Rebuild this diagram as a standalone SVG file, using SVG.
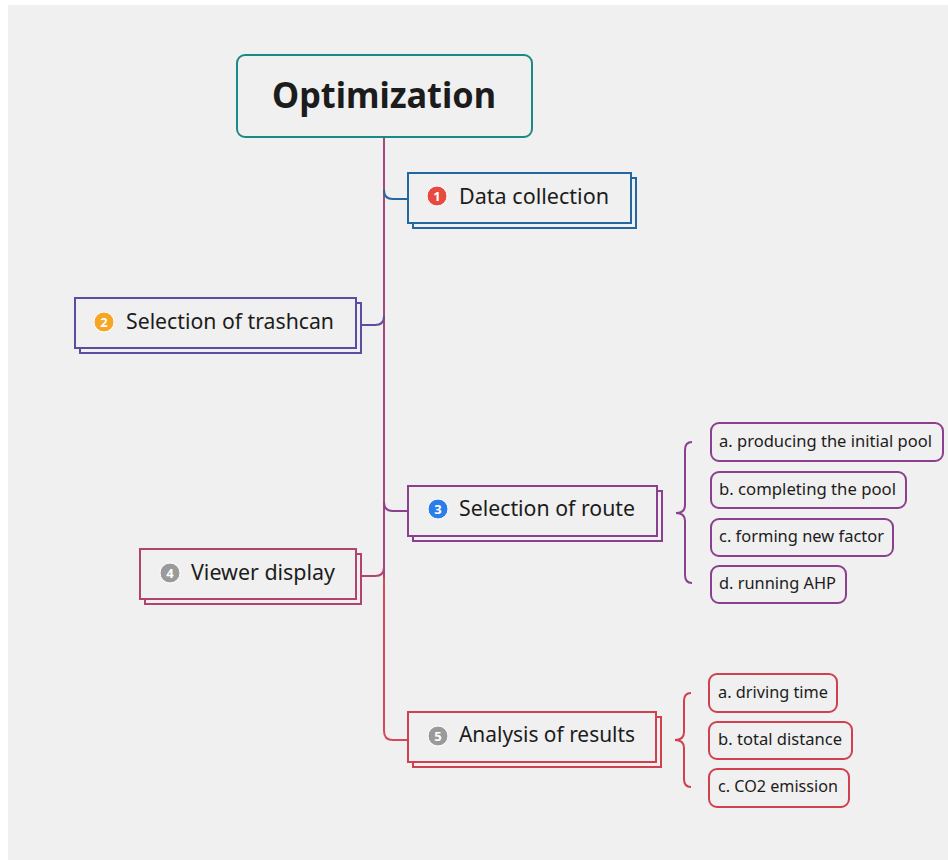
<svg xmlns="http://www.w3.org/2000/svg" width="948" height="860" viewBox="0 0 948 860">
<style>
text{font-family:"Noto Sans","Open Sans","Liberation Sans",sans-serif;fill:#1c1c1c}
.t{font-size:21px}
.s{font-size:16px}
.bx{fill:#f0f0f0;stroke-width:2}
.sub{fill:#f0f0f0;stroke-width:2}
.bd{font-size:13px;font-weight:bold;fill:#fff;text-anchor:middle}
.c{fill:none;stroke-width:2}
</style>
<rect x="0" y="0" width="948" height="860" fill="#ffffff"/>
<rect x="8" y="5" width="940" height="855" fill="#f0f0f0"/>
<g id="connectors">
<path class="c" d="M384,137 L384,578" stroke="#a8457c"/>
<path class="c" d="M384,578 L384,731 Q384,740 393,740 L408,740" stroke="#d2495a"/>
<path class="c" d="M384,190 Q384,199 393,199 L408,199" stroke="#2466a0"/>
<path class="c" d="M361,325 L375,325 Q384,325 384,316" stroke="#5b4ea0"/>
<path class="c" d="M384,502 Q384,511 393,511 L408,511" stroke="#8b3f8f"/>
<path class="c" d="M361,576 L375,576 Q384,576 384,567" stroke="#b0446f"/>
<path class="c" d="M692,442 Q685,442 685,450 L685,505 Q685,513 676,513 Q685,513 685,521 L685,575 Q685,583 692,583" stroke="#8b3f8f"/>
<path class="c" d="M691,693 Q684,693 684,701 L684,732 Q684,740 675,740 Q684,740 684,748 L684,779 Q684,787 691,787" stroke="#d0404f"/>
</g>
<g id="root">
<rect x="237" y="55" width="295" height="82" rx="8" fill="#f0f0f0" stroke="#1a8a87" stroke-width="2"/>
<text x="272" y="108" font-size="35" font-weight="bold" textLength="224" lengthAdjust="spacingAndGlyphs" fill="#111">Optimization</text>
</g>
<g id="n1">
<rect class="bx" x="413" y="178" width="223" height="50" stroke="#2466a0"/>
<rect class="bx" x="408" y="173" width="223" height="50" stroke="#2466a0"/>
<circle cx="437" cy="196" r="10" fill="#e84a3f" stroke="#fff" stroke-width="1"/>
<text class="bd" x="437" y="200.5">1</text>
<text class="t" x="459" y="204" textLength="150" lengthAdjust="spacingAndGlyphs">Data collection</text>
</g>
<g id="n2">
<rect class="bx" x="80" y="303" width="281" height="50" stroke="#5b4ea0"/>
<rect class="bx" x="75" y="298" width="281" height="50" stroke="#5b4ea0"/>
<circle cx="104" cy="322" r="10" fill="#f5a623" stroke="#fff" stroke-width="1"/>
<text class="bd" x="104" y="326.5">2</text>
<text class="t" x="126" y="329" textLength="208" lengthAdjust="spacingAndGlyphs">Selection of trashcan</text>
</g>
<g id="n3">
<rect class="bx" x="413" y="491" width="249" height="50" stroke="#8b3f8f"/>
<rect class="bx" x="408" y="486" width="249" height="50" stroke="#8b3f8f"/>
<circle cx="438" cy="509" r="10" fill="#2b7de9" stroke="#fff" stroke-width="1"/>
<text class="bd" x="438" y="513.5">3</text>
<text class="t" x="459" y="516" textLength="176" lengthAdjust="spacingAndGlyphs">Selection of route</text>
</g>
<g id="n4">
<rect class="bx" x="145" y="554" width="216" height="50" stroke="#b0446f"/>
<rect class="bx" x="140" y="549" width="216" height="50" stroke="#b0446f"/>
<circle cx="170" cy="573" r="10" fill="#9a9a9a" stroke="#fff" stroke-width="1"/>
<text class="bd" x="170" y="577.5">4</text>
<text class="t" x="191" y="580" textLength="144" lengthAdjust="spacingAndGlyphs">Viewer display</text>
</g>
<g id="n5">
<rect class="bx" x="413" y="717" width="248" height="50" stroke="#d0404f"/>
<rect class="bx" x="408" y="712" width="248" height="50" stroke="#d0404f"/>
<circle cx="438" cy="736" r="10" fill="#9a9a9a" stroke="#fff" stroke-width="1"/>
<text class="bd" x="438" y="740.5">5</text>
<text class="t" x="459" y="742" textLength="176" lengthAdjust="spacingAndGlyphs">Analysis of results</text>
</g>
<g id="n3a">
<rect class="sub" x="711" y="423" width="232" height="38" rx="8" stroke="#8b3f8f"/>
<text class="s" x="719" y="447" textLength="213" lengthAdjust="spacingAndGlyphs">a. producing the initial pool</text>
</g>
<g id="n3b">
<rect class="sub" x="711" y="472" width="195" height="36" rx="8" stroke="#8b3f8f"/>
<text class="s" x="719" y="495" textLength="177" lengthAdjust="spacingAndGlyphs">b. completing the pool</text>
</g>
<g id="n3c">
<rect class="sub" x="711" y="519" width="182" height="37" rx="8" stroke="#8b3f8f"/>
<text class="s" x="719" y="542" textLength="165" lengthAdjust="spacingAndGlyphs">c. forming new factor</text>
</g>
<g id="n3d">
<rect class="sub" x="711" y="566" width="135" height="37" rx="8" stroke="#8b3f8f"/>
<text class="s" x="719" y="589" textLength="117" lengthAdjust="spacingAndGlyphs">d. running AHP</text>
</g>
<g id="n5a">
<rect class="sub" x="709" y="674" width="128" height="38" rx="8" stroke="#d0404f"/>
<text class="s" x="718" y="698" textLength="110" lengthAdjust="spacingAndGlyphs">a. driving time</text>
</g>
<g id="n5b">
<rect class="sub" x="709" y="722" width="143" height="37" rx="8" stroke="#d0404f"/>
<text class="s" x="718" y="745" textLength="124" lengthAdjust="spacingAndGlyphs">b. total distance</text>
</g>
<g id="n5c">
<rect class="sub" x="709" y="769" width="140" height="38" rx="8" stroke="#d0404f"/>
<text class="s" x="718" y="792" textLength="120" lengthAdjust="spacingAndGlyphs">c. CO2 emission</text>
</g>
</svg>
